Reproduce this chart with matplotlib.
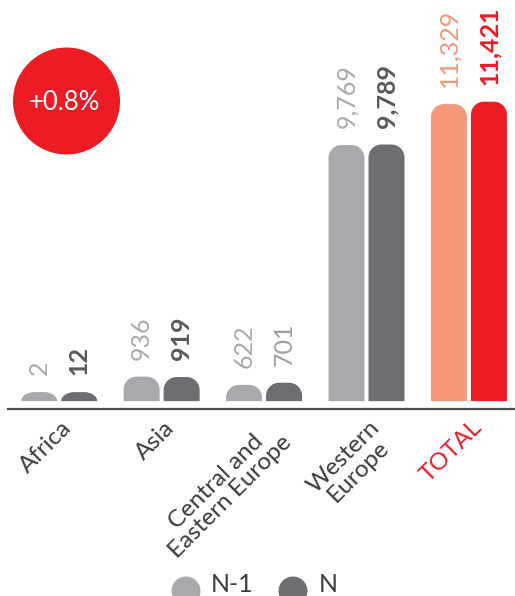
import numpy as np
import matplotlib
matplotlib.use("Agg")
import matplotlib.pyplot as plt
from matplotlib.path import Path
from matplotlib.patches import PathPatch, Ellipse
from matplotlib.transforms import ScaledTranslation

plt.rcParams["font.family"] = ["Lato", "DejaVu Sans"]

# data
regions = ["Africa", "Asia", "Central and\nEastern Europe", "Western\nEurope", "TOTAL"]
prev_year = [2, 936, 622, 9769, 11329]   # N-1
this_year = [12, 919, 701, 9789, 11421]  # N
change_label = "+0.8%"

# colours
GREY_LIGHT = "#a7a9ac"
GREY_DARK = "#6d6e71"
SALMON = "#f4977a"
RED = "#ed1c24"
prev_colors = [GREY_LIGHT] * 4 + [SALMON]
this_colors = [GREY_DARK] * 4 + [RED]
prev_text = [GREY_LIGHT] * 4 + [SALMON]
this_text = ["#58595b", "#58595b", "#9d9fa2", "#58595b", RED]
this_weight = ["bold", "bold", "normal", "bold", "bold"]

W, H = 515, 596
fig = plt.figure(figsize=(W / 100, H / 100), dpi=100)

# axes: left edge at 8px, baseline at 409px from the top
ax_l, ax_b = 8, 409
ax = fig.add_axes([ax_l / W, 1 - ax_b / H, (W - ax_l) / W, ax_b / H])
XMIN, XMAX = -0.5, 4.45
YMIN, YMAX = -300, 15300
ax.set_xlim(XMIN, XMAX)
ax.set_ylim(YMIN, YMAX)
px_x = (W - ax_l) / (XMAX - XMIN)
px_y = ax_b / (YMAX - YMIN)

BAR_W = 36 / px_x
GAP = 4 / px_x
MIN_H = 9 / px_y       # tiny values still show a small dome
K = 0.5523


def rounded_bar(xc, h, color):
    x0, x1 = xc - BAR_W / 2, xc + BAR_W / 2
    rx = 13 / px_x
    ry = min(13 / px_y, h)
    verts = [
        (x0, 0), (x0, h - ry),
        (x0, h - ry + K * ry), (x0 + rx - K * rx, h), (x0 + rx, h),
        (x1 - rx, h),
        (x1 - rx + K * rx, h), (x1, h - ry + K * ry), (x1, h - ry),
        (x1, 0), (x0, 0),
    ]
    codes = [Path.MOVETO, Path.LINETO,
             Path.CURVE4, Path.CURVE4, Path.CURVE4,
             Path.LINETO,
             Path.CURVE4, Path.CURVE4, Path.CURVE4,
             Path.LINETO, Path.CLOSEPOLY]
    ax.add_patch(PathPatch(Path(verts, codes), facecolor=color,
                           edgecolor="none"))


x = np.arange(len(regions))
for i in x:
    for j, (vals, cols, tcols) in enumerate(
            [(prev_year, prev_colors, prev_text), (this_year, this_colors, this_text)]):
        xc = i + (-1 if j == 0 else 1) * (BAR_W + GAP) / 2
        v = vals[i]
        h = max(v, MIN_H)
        rounded_bar(xc, h, cols[i])
        ax.annotate(f"{v:,}", (xc, h), xytext=(0, 12), textcoords="offset points",
                    rotation=90, ha="center", va="bottom", fontsize=18,
                    color=tcols[i],
                    fontweight=this_weight[i] if j == 1 else "normal")

# baseline
for s in ["top", "right", "left"]:
    ax.spines[s].set_visible(False)
ax.spines["bottom"].set_color("#4d4d4f")
ax.spines["bottom"].set_linewidth(1.6)
ax.set_yticks([])
ax.set_xticks([])

# region labels, rotated 45 degrees under each group
off = ScaledTranslation(2 / 100, -8 / 100, fig.dpi_scale_trans)
for i, name in enumerate(regions):
    ax.text(i, 0, name, transform=ax.get_xaxis_transform() + off,
            rotation=45, rotation_mode="anchor", ha="right", va="top",
            multialignment="center", fontsize=17.5, linespacing=1.0,
            color=RED if name == "TOTAL" else "#3c3c3e")

# red badge with the overall change
fig.add_artist(Ellipse((66.5 / W, 1 - 101 / H), 107 / W, 107 / H,
                       transform=fig.transFigure, facecolor=RED,
                       edgecolor="none"))
fig.text(64 / W, 1 - 102 / H, change_label, ha="center", va="center",
         color="white", fontsize=18.5)

# legend along the bottom edge
for cx, tx, col, lab in [(186, 211, GREY_LIGHT, "N-1"), (293, 319, GREY_DARK, "N")]:
    fig.add_artist(Ellipse((cx / W, 1 - 591 / H), 29 / W, 29 / H,
                           transform=fig.transFigure, facecolor=col,
                           edgecolor="none"))
    fig.text(tx / W, 1 - 592 / H, lab, ha="left", va="baseline",
             color="#3c3c3e", fontsize=18)

fig.savefig("out.png", dpi=100)
